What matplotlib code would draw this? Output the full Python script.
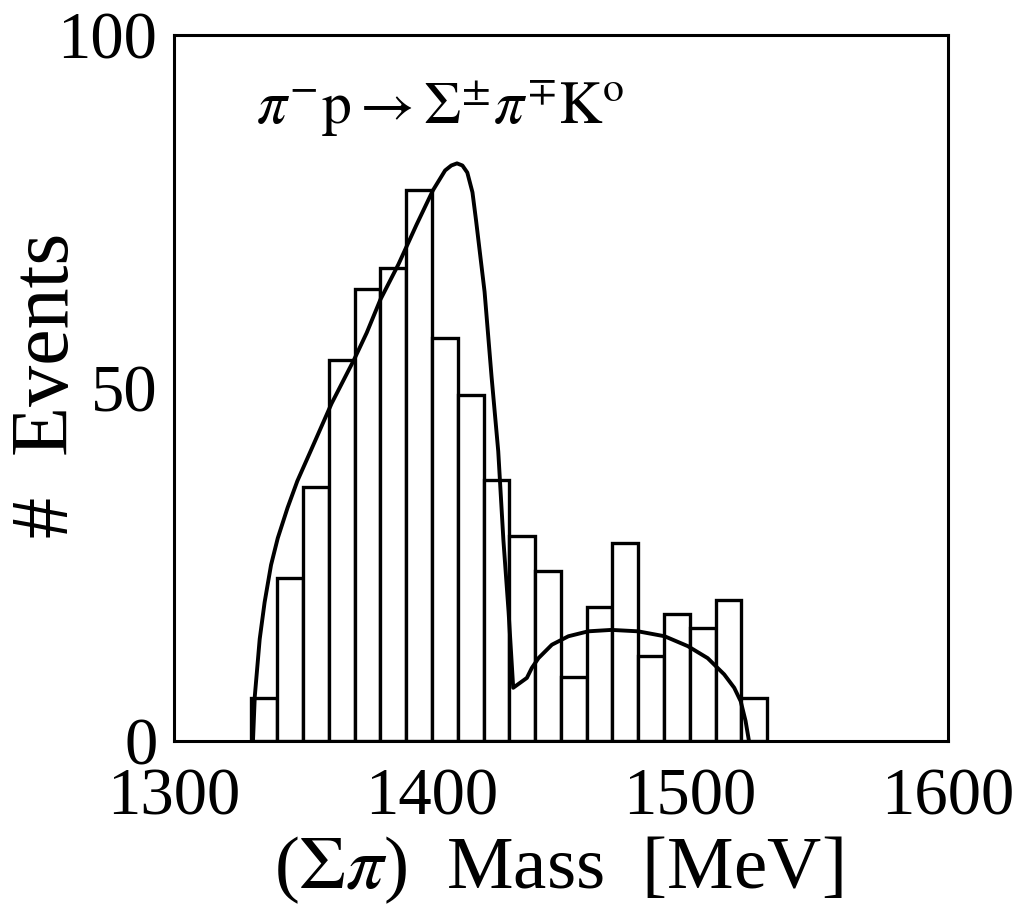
import numpy as np
import matplotlib
matplotlib.use("Agg")
import matplotlib.pyplot as plt

# histogram of (Sigma pi) invariant mass, 10 MeV bins
bin_left = [1330, 1340, 1350, 1360, 1370, 1380, 1390, 1400, 1410, 1420,
            1430, 1440, 1450, 1460, 1470, 1480, 1490, 1500, 1510, 1520]
events = [6, 23, 36, 54, 64, 67, 78, 57, 49, 37,
          29, 24, 9, 19, 28, 12, 18, 16, 20, 6]

# fitted curve
curve_x = [1330.6, 1331.3, 1333.2, 1335.1, 1337.6, 1340.2, 1344.0, 1347.8,
           1352.9, 1361.1, 1369.8, 1374.7, 1380.0, 1387.0, 1394.0, 1400.4,
           1405.1, 1407.5, 1409.7, 1411.8, 1413.7, 1415.7, 1417.1, 1420.4,
           1423.1, 1425.7, 1427.7, 1429.7, 1431.5, 1436.8, 1438.7, 1441.3,
           1446.5, 1452.9, 1460.6, 1469.6, 1479.9, 1490.2, 1499.2, 1506.9,
           1513.3, 1517.2, 1519.7, 1521.6, 1522.9]
curve_y = [0, 6.3, 14.4, 19.6, 24.9, 28.7, 33.0, 36.8,
           41.0, 47.8, 54.0, 57.8, 62.5, 67.5, 73.1, 78.0,
           80.8, 81.5, 81.8, 81.5, 80.5, 77.7, 73.7, 63.6,
           51.6, 41.0, 28.4, 18.3, 7.5, 8.9, 10.3, 11.7,
           13.6, 14.8, 15.5, 15.7, 15.5, 14.8, 13.4, 11.7,
           9.4, 7.5, 5.6, 2.8, 0]

xticks = [1300, 1400, 1500, 1600]
yticks = [0, 50, 100]

plt.rcParams['mathtext.fontset'] = 'stix'

fig = plt.figure(figsize=(10.18, 9.19), dpi=100)
ax = fig.add_axes([0.171, 0.194, 0.760, 0.768])

ax.bar(bin_left, events, width=10, align='edge', facecolor='white',
       edgecolor='black', linewidth=2.4, zorder=2)
ax.plot(curve_x, curve_y, color='black', linewidth=2.8, zorder=3,
        solid_joinstyle='round', solid_capstyle='round')

ax.set_xlim(1300, 1600)
ax.set_ylim(0, 100)
ax.set_xticks(xticks)
ax.set_yticks(yticks)
ax.tick_params(length=0, labelsize=48)
ax.tick_params(axis='x', pad=19)
ax.tick_params(axis='y', pad=12)
for lab in ax.get_xticklabels() + ax.get_yticklabels():
    lab.set_family('Liberation Serif')
for sp in ax.spines.values():
    sp.set_linewidth(2.2)

fig.text(0.548, 1 - 870 / 919, r'($\Sigma\pi$)  Mass  [MeV]', fontsize=54,
         family='Liberation Serif', ha='center', va='center')
fig.text(0.047, 1 - 385 / 919, '#  Events', fontsize=59,
         family='Liberation Serif', rotation=90, ha='center', va='center')

ax.text(1403, 89.5, r'$\pi^{-}\mathrm{p}\rightarrow\Sigma^{\pm}\pi^{\mp}\mathrm{K}^{\mathrm{o}}$',
        fontsize=43, ha='center', va='center')

fig.savefig("out.png", dpi=100)
